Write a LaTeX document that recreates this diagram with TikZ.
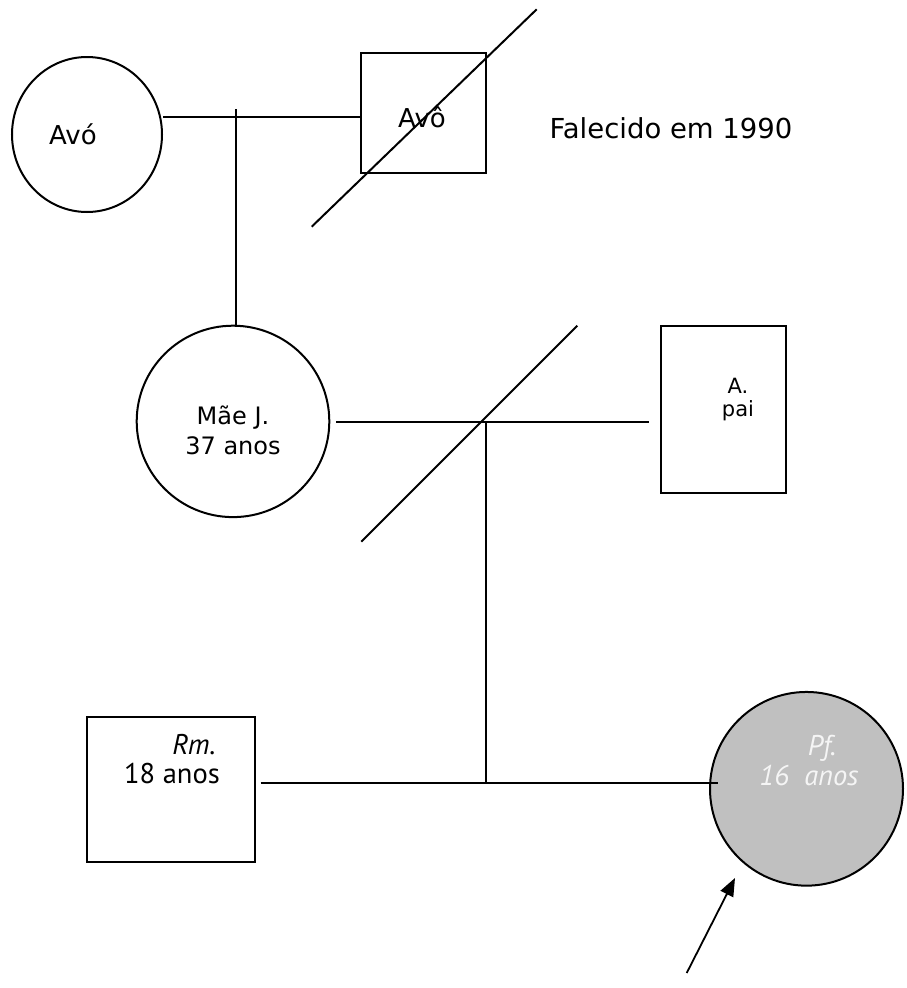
\documentclass[tikz,border=0pt]{standalone}
\usepackage{fontspec}
\setmainfont{DejaVu Sans}
\newfontfamily\narrowfont{PT Sans}
\usetikzlibrary{shapes.geometric,arrows.meta}
\definecolor{pfgray}{RGB}{192,192,192}
\definecolor{pftext}{RGB}{245,245,245}
\tikzset{
  ln/.style={line width=2pt,black},
  femnode/.style={ellipse,draw,line width=2pt,inner sep=0pt},
  malenode/.style={rectangle,draw,line width=2pt,inner sep=0pt},
  txt/.style={inner sep=0pt,align=center},
}
\begin{document}
\begin{tikzpicture}[x=1pt,y=-1pt]
\useasboundingbox (0,0) rectangle (906,988);
% generation 1
\node[femnode,minimum width=150pt,minimum height=155pt] (avoF) at (87,134.5) {};
\node[malenode,minimum width=125pt,minimum height=120pt] (avoM) at (423.7,113.3) {};
\node[txt,font=\fontsize{26}{28}\selectfont] (tAvoF) at (73,134) {Avó};
\node[txt,font=\fontsize{26}{28}\selectfont] (tAvoM) at (422,117) {Avô};
\node[txt,font=\fontsize{27.5}{30}\selectfont] (tFal) at (671,128) {Falecido em 1990};
\coordinate (m1) at (236,117);
\coordinate (m1top) at (236,109);
\coordinate (d1a) at (311.7,226.7);
\coordinate (d1b) at (536.7,9.3);
\draw[ln] (avoF.east |- m1) -- (avoM.west |- m1);
\draw[ln] (d1a) -- (d1b);
% generation 2
\node[femnode,minimum width=192.6pt,minimum height=191.4pt] (mae) at (233,421.4) {};
\node[malenode,minimum width=125pt,minimum height=167.6pt] (pai) at (723.5,409.5) {};
\node[txt,font=\fontsize{24}{30}\selectfont] (tMae) at (233,430) {Mãe J.\\37 anos};
\node[txt,font=\fontsize{21}{23}\selectfont] (tPai) at (738,400) {A.\\pai};
\draw[ln] (m1top) -- (m1top |- mae.north);
\coordinate (m2) at (485.7,421.7);
\coordinate (m2l) at (336,421.7);
\coordinate (m2r) at (649,421.7);
\draw[ln] (m2l) -- (m2r);
\coordinate (d2a) at (361.3,541.7);
\coordinate (d2b) at (577.3,325.7);
\draw[ln] (d2a) -- (d2b);
% generation 3
\node[malenode,minimum width=168.3pt,minimum height=144.7pt] (rm) at (170.8,789.3) {};
\node[femnode,fill=pfgray,minimum width=193pt,minimum height=193.7pt] (pf) at (806.5,788.8) {};
\coordinate (m3) at (485.7,782.7);
\coordinate (m3l) at (260.7,782.7);
\coordinate (m3r) at (718,782.7);
\draw[ln] (m2) -- (m3);
\draw[ln] (m3l) -- (m3r);
\node[txt,font=\narrowfont\fontsize{28.5}{30}\selectfont\itshape] (tRm1) at (194,745) {Rm.};
\node[txt,font=\narrowfont\fontsize{28.5}{30}\selectfont] (tRm2) at (172,774) {18 anos};
\node[txt,text=pftext,font=\narrowfont\fontsize{28.5}{30}\selectfont\itshape] (tPf1) at (822,748) {Pf.};
\node[txt,text=pftext,font=\narrowfont\fontsize{28.5}{30}\selectfont\itshape] (tPf2) at (809,776) {16\ \ anos};
% arrow
\coordinate (arrS) at (686.7,973);
\coordinate (arrE) at (735,878);
\draw[line width=1.8pt,-{Triangle[length=18pt,width=14pt]}] (arrS) -- (arrE);
\end{tikzpicture}
\end{document}
